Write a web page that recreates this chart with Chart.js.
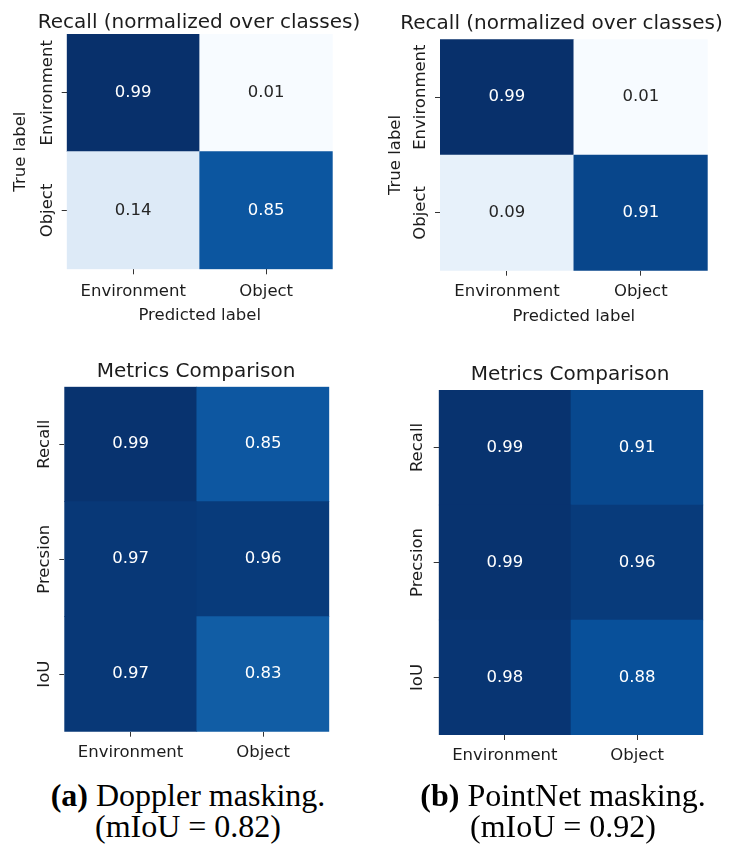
<!DOCTYPE html>
<html>
<head>
<meta charset="utf-8">
<script src="https://cdn.jsdelivr.net/npm/chart.js@4.4.0/dist/chart.umd.min.js"></script>
<style>
html,body{margin:0;padding:0;background:#fff;width:742px;height:848px;overflow:hidden;position:relative}
canvas{position:absolute}
.cap{position:absolute;width:400px;font-family:"Liberation Serif","Times New Roman",serif;font-size:32px;line-height:31px;color:#000;text-align:center;white-space:nowrap}
</style>
</head>
<body>
<canvas id="c1"></canvas>
<canvas id="c2"></canvas>
<canvas id="c3"></canvas>
<canvas id="c4"></canvas>
<div class="cap" id="capA"></div>
<div class="cap" id="capB"></div>
<script>
// ---------------- data ----------------
const predictedLabels = ['Environment', 'Object'];
const trueLabels = ['Environment', 'Object'];
const metricLabels = ['Recall', 'Precsion', 'IoU'];

// Recall confusion matrices (rows = true label, top to bottom)
const dopplerRecallEnvironment = [0.99, 0.01];
const dopplerRecallObject = [0.14, 0.85];
const pointnetRecallEnvironment = [0.99, 0.01];
const pointnetRecallObject = [0.09, 0.91];

// Metrics comparison (rows = metric, top to bottom; columns = class)
const dopplerRecall = [0.99, 0.85];
const dopplerPrecision = [0.97, 0.96];
const dopplerIoU = [0.97, 0.83];
const pointnetRecall = [0.99, 0.91];
const pointnetPrecision = [0.99, 0.96];
const pointnetIoU = [0.98, 0.88];

const recallTitle = 'Recall (normalized over classes)';
const metricsTitle = 'Metrics Comparison';
const xAxisTitle = 'Predicted label';
const yAxisTitle = 'True label';
const captionA = ['(a)', 'Doppler masking.', '(mIoU = 0.82)'];
const captionB = ['(b)', 'PointNet masking.', '(mIoU = 0.92)'];

// ---------------- style helpers ----------------
const FONT = 'DejaVu Sans';
const TEXT = '#1c1c1c';
Chart.defaults.font.family = FONT;
Chart.defaults.color = TEXT;

const BLUES = ['#f7fbff','#deebf7','#c6dbef','#9ecae1','#6baed6','#4292c6','#2171b5','#08519c','#08306b'];
function hexToRgb(h){return [parseInt(h.slice(1,3),16),parseInt(h.slice(3,5),16),parseInt(h.slice(5,7),16)];}
function blues(t){
  t = Math.max(0, Math.min(1, t));
  const p = t * 8;
  const i = Math.min(7, Math.floor(p));
  const f = p - i;
  const a = hexToRgb(BLUES[i]), b = hexToRgb(BLUES[i+1]);
  return a.map((v,k)=>Math.round(v + (b[k]-v)*f));
}
function rgbStr(c){return 'rgb(' + c.join(',') + ')';}
function luminance(c){
  const l = c.map(v=>{v/=255;return v<=0.03928? v/12.92 : Math.pow((v+0.055)/1.055,2.4);});
  return 0.2126*l[0] + 0.7152*l[1] + 0.0722*l[2];
}

const cellLabelPlugin = {
  id: 'cellLabels',
  afterDatasetsDraw(chart) {
    const ctx = chart.ctx;
    ctx.save();
    ctx.font = '16.5px "' + FONT + '"';
    ctx.textAlign = 'center';
    ctx.textBaseline = 'middle';
    chart.data.datasets.forEach((ds, d) => {
      const meta = chart.getDatasetMeta(d);
      meta.data.forEach((bar, j) => {
        const p = bar.getProps(['x', 'y', 'base'], true);
        const v = ds.cellValues[j];
        ctx.fillStyle = luminance(ds.cellRgb[j]) > 0.408 ? '#262626' : '#ffffff';
        ctx.fillText(v.toFixed(2), p.x, (p.y + p.base) / 2);
      });
    });
    ctx.restore();
  }
};

const yTickLabelPlugin = {
  id: 'yTickLabels',
  afterDraw(chart) {
    const s = chart.scales.y;
    const labels = chart.options.plugins.yTickLabels.labels;
    const gap = chart.options.plugins.yTickLabels.gap;
    const ctx = chart.ctx;
    ctx.save();
    ctx.font = '16.5px "' + FONT + '"';
    ctx.fillStyle = TEXT;
    ctx.textAlign = 'center';
    ctx.textBaseline = 'middle';
    s.ticks.forEach(t => {
      const py = s.getPixelForValue(t.value);
      const idx = Math.round(t.value - 0.5);
      ctx.save();
      ctx.translate(s.right - 5 - gap, py);
      ctx.rotate(-Math.PI / 2);
      ctx.fillText(labels[idx], 0, 0);
      ctx.restore();
    });
    ctx.restore();
  }
};

function makeHeatmap(id, g, colLabels, rowLabels, rows, titleText, xTitle, yTitle, vmin, vmax) {
  const canvas = document.getElementById(id);
  const W = 2 * (g.titleX - g.cx);
  const Wi = Math.ceil(W);
  const Hraw = g.areaBottom - g.cy + g.xAxisH;
  const Hi = Math.ceil(Hraw);
  canvas.width = Wi; canvas.height = Hi;
  canvas.style.left = g.cx + 'px'; canvas.style.top = g.cy + 'px';
  canvas.style.width = Wi + 'px'; canvas.style.height = Hi + 'px';
  const rightW = g.cx + W - g.areaRight;
  const titleTop = g.titleY - g.cy - 10;
  const titleBottom = g.areaTop - g.cy - titleTop - 20;
  const n = rowLabels.length;
  const bottomUpLabels = rowLabels.slice().reverse();

  const datasets = [];
  for (let k = n - 1; k >= 0; k--) {
    const vals = rows[k];
    const rgb = vals.map(v => blues((v - vmin) / (vmax - vmin)));
    datasets.push({
      data: vals.map(() => 1),
      cellValues: vals,
      cellRgb: rgb,
      backgroundColor: rgb.map(rgbStr),
      borderWidth: 0,
      categoryPercentage: 1,
      barPercentage: 1
    });
  }

  return new Chart(canvas, {
    type: 'bar',
    data: { labels: colLabels, datasets },
    plugins: [cellLabelPlugin, yTickLabelPlugin],
    options: {
      responsive: false,
      animation: false,
      devicePixelRatio: 1,
      layout: { padding: { left: 0, top: 0, right: Wi - W, bottom: Hi - Hraw } },
      plugins: {
        legend: { display: false },
        tooltip: { enabled: false },
        title: {
          display: true,
          text: titleText,
          color: TEXT,
          font: { family: FONT, size: 20, weight: 'normal', lineHeight: 1 },
          padding: { top: titleTop, bottom: titleBottom }
        },
        yTickLabels: { labels: bottomUpLabels, gap: g.yGap }
      },
      scales: {
        x: {
          type: 'category',
          stacked: true,
          offset: true,
          border: { display: false },
          grid: { display: true, drawOnChartArea: false, drawTicks: true, tickLength: 5, offset: false, tickColor: '#333', tickWidth: 1 },
          ticks: { font: { family: FONT, size: 16.5 }, color: TEXT, padding: g.xPad, maxRotation: 0, autoSkip: false },
          title: {
            display: !!xTitle,
            text: xTitle || '',
            color: TEXT,
            font: { family: FONT, size: 16.5 },
            padding: { top: 0, bottom: 0 }
          },
          afterFit: s => { s.height = g.xAxisH; }
        },
        y: {
          type: 'linear',
          stacked: true,
          min: 0,
          max: n,
          position: 'left',
          border: { display: false },
          grid: { display: true, drawOnChartArea: false, drawTicks: true, tickLength: 5, tickColor: '#333', tickWidth: 1 },
          ticks: { display: false },
          afterBuildTicks: s => { s.ticks = bottomUpLabels.map((_, i) => ({ value: i + 0.5 })); },
          title: {
            display: !!yTitle,
            text: yTitle || '',
            color: TEXT,
            font: { family: FONT, size: 16.5 },
            padding: { top: g.yTitlePad, bottom: 0 }
          },
          afterFit: s => { s.width = g.areaLeft - g.cx; }
        },
        yRight: {
          type: 'linear',
          axis: 'y',
          position: 'right',
          display: true,
          border: { display: false },
          grid: { display: false },
          ticks: { display: false },
          afterFit: s => { s.width = rightW; }
        }
      }
    }
  });
}

// ---------------- charts ----------------
makeHeatmap('c1',
  { cx: 0, cy: 0, areaLeft: 66.7, areaRight: 332.7, areaTop: 34, areaBottom: 269.3,
    titleX: 199, titleY: 23, xAxisH: 56.2, xPad: 7.3, yGap: 14, yTitlePad: 11.2 },
  predictedLabels, trueLabels, [dopplerRecallEnvironment, dopplerRecallObject],
  recallTitle, xAxisTitle, yAxisTitle, 0.01, 0.99);

makeHeatmap('c2',
  { cx: 371, cy: 0, areaLeft: 440, areaRight: 707.7, areaTop: 39.3, areaBottom: 270.7,
    titleX: 561.5, titleY: 24, xAxisH: 56, xPad: 6.4, yGap: 14, yTitlePad: 15 },
  predictedLabels, trueLabels, [pointnetRecallEnvironment, pointnetRecallObject],
  recallTitle, xAxisTitle, yAxisTitle, 0.01, 0.99);

makeHeatmap('c3',
  { cx: 0, cy: 340, areaLeft: 64.3, areaRight: 329.3, areaTop: 386.7, areaBottom: 731.7,
    titleX: 196, titleY: 371.5, xAxisH: 36, xPad: 5.8, yGap: 15, yTitlePad: 0 },
  predictedLabels, metricLabels, [dopplerRecall, dopplerPrecision, dopplerIoU],
  metricsTitle, null, null, 0, 1);

makeHeatmap('c4',
  { cx: 371, cy: 340, areaLeft: 438.7, areaRight: 703.3, areaTop: 390, areaBottom: 735,
    titleX: 570, titleY: 375, xAxisH: 36, xPad: 6.1, yGap: 16, yTitlePad: 0 },
  predictedLabels, metricLabels, [pointnetRecall, pointnetPrecision, pointnetIoU],
  metricsTitle, null, null, 0, 1);

// ---------------- captions ----------------
function setCaption(id, parts, centerX) {
  const el = document.getElementById(id);
  el.innerHTML = '<b>' + parts[0] + '</b> ' + parts[1] + '<br>' + parts[2];
  el.style.left = (centerX - 200) + 'px';
  el.style.top = '780px';
}
setCaption('capA', captionA, 188);
setCaption('capB', captionB, 563);
</script>
</body>
</html>
